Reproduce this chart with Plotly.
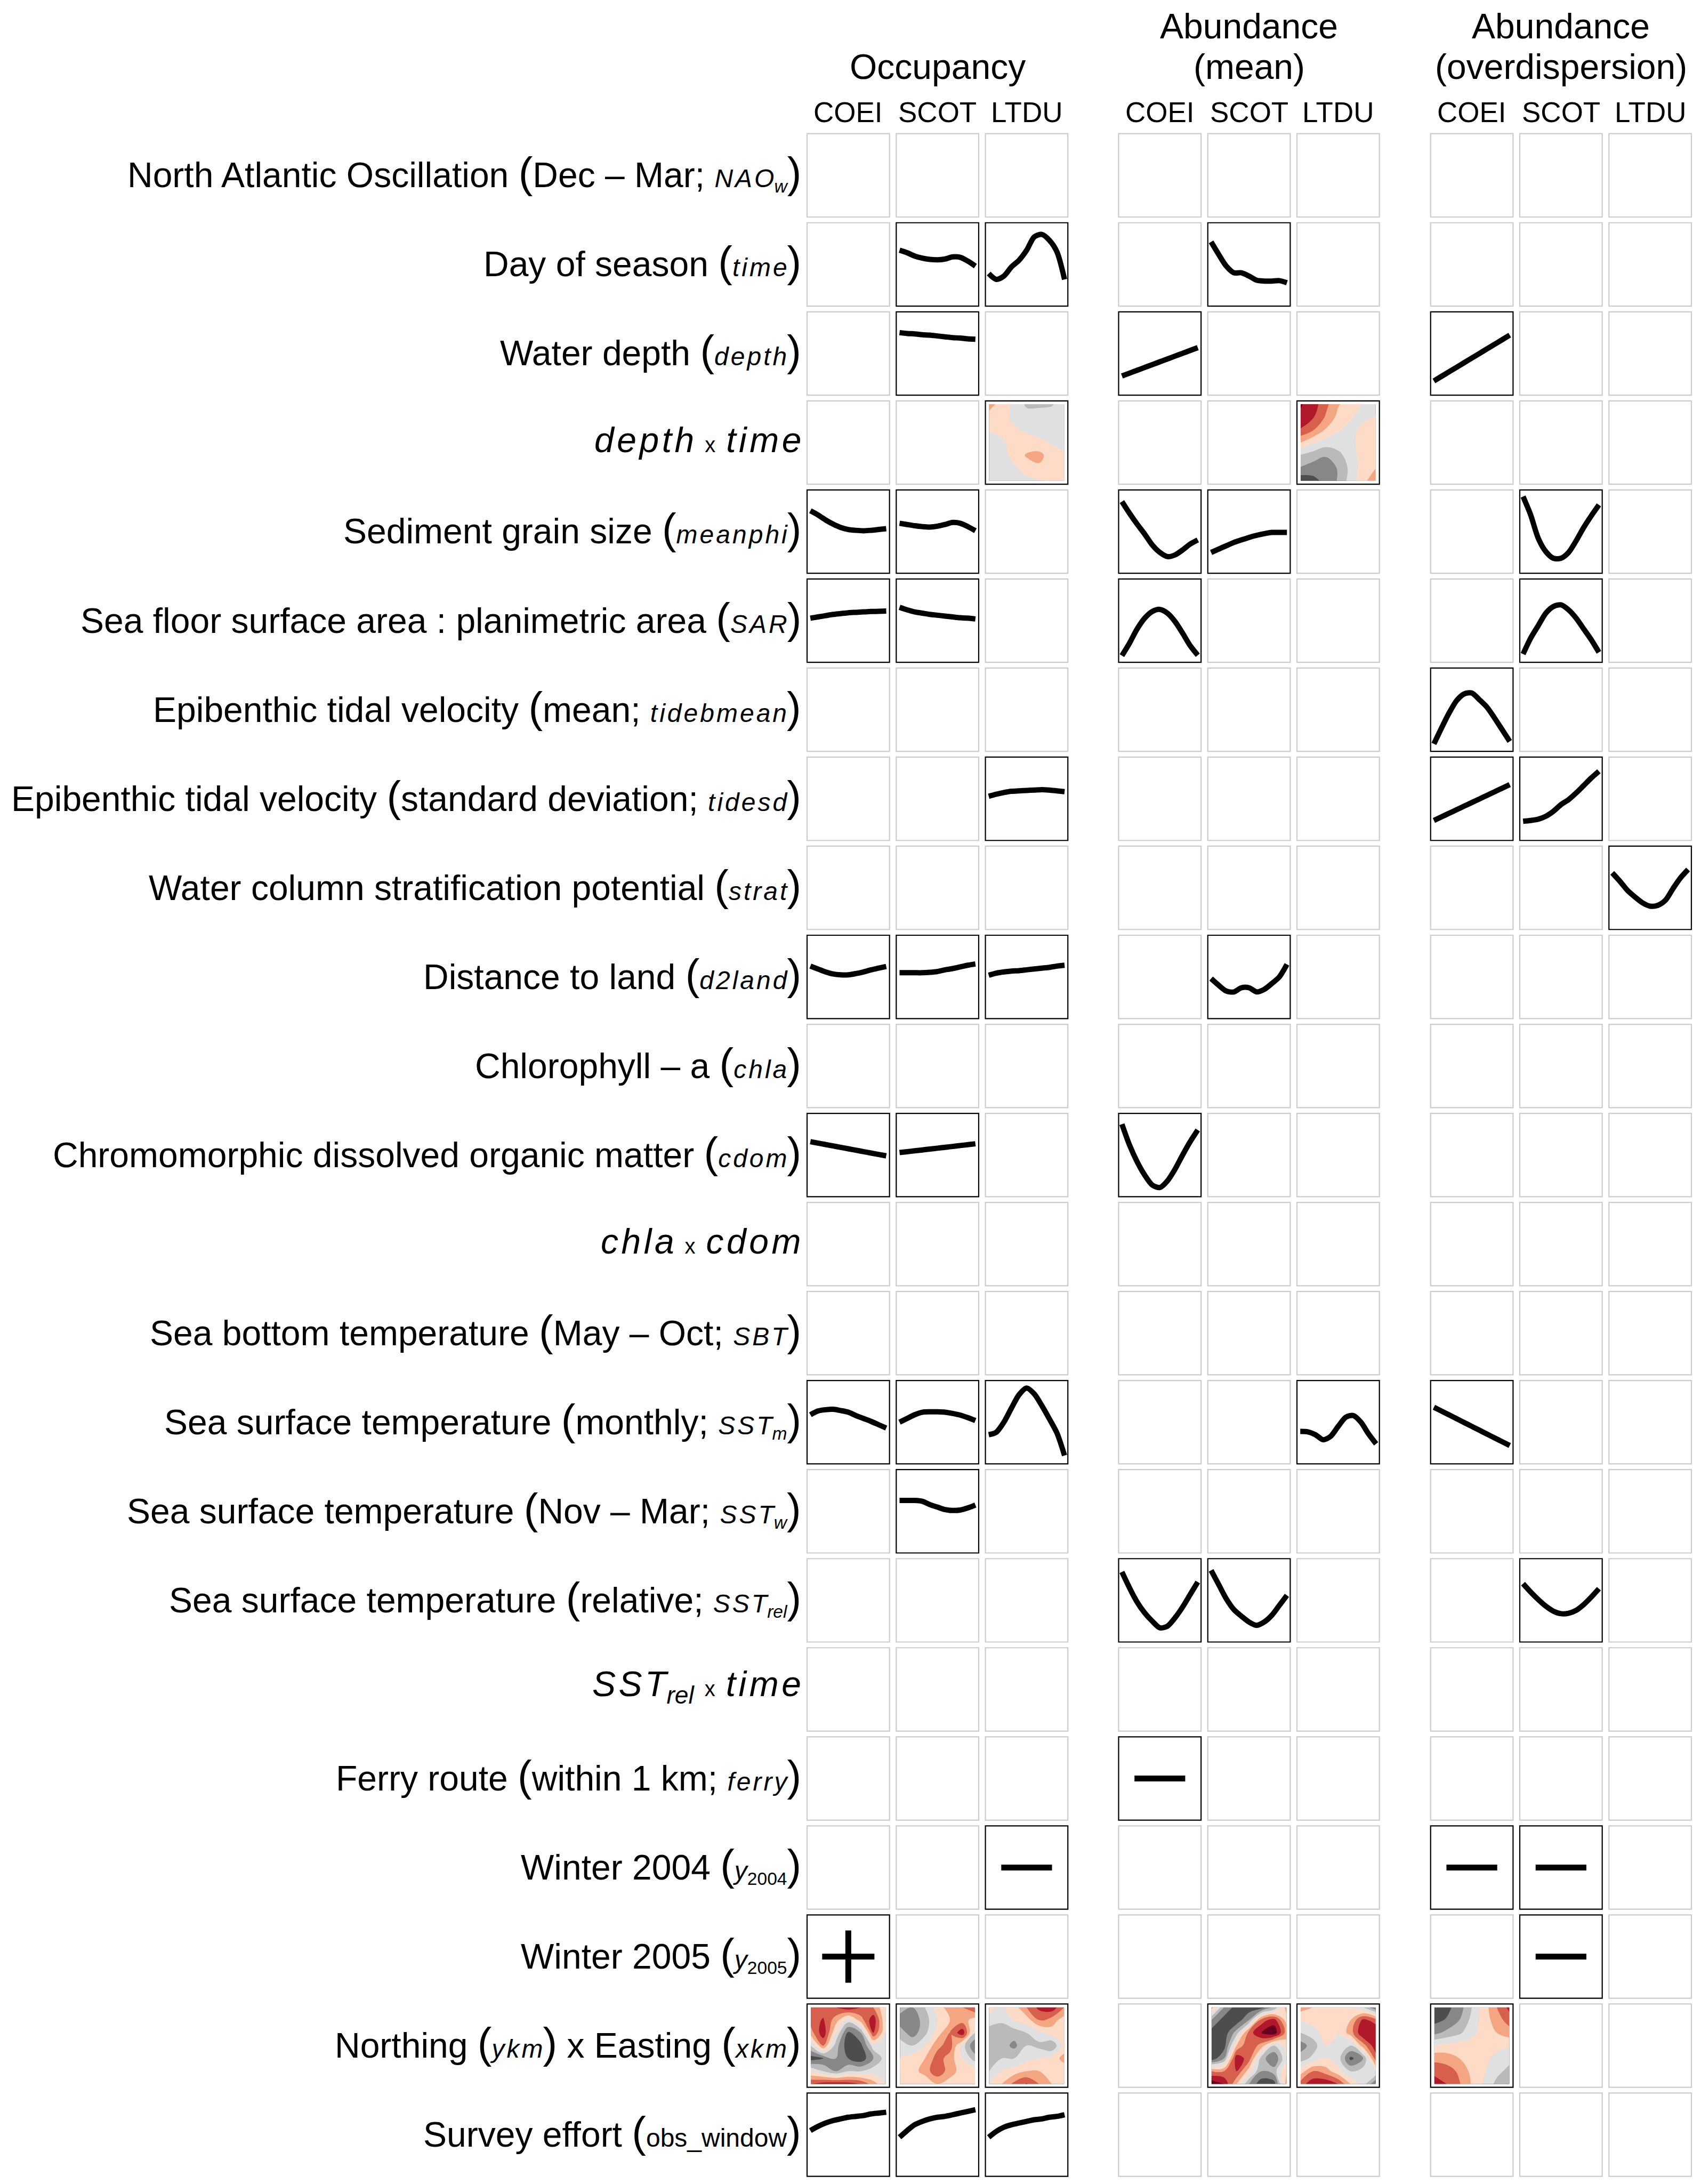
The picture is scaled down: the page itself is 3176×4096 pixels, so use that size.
import plotly.graph_objects as go

# ---------------- text ----------------
GROUPS_TOP = ["", "Abundance", "Abundance"]
GROUPS_BOTTOM = ["Occupancy", "(mean)", "(overdispersion)"]
SPECIES = ["COEI", "SCOT", "LTDU"]

MAIN = 66
HAIR = "\u200a"


def P(s):
    return '<span style="font-size:80px">' + s + '</span>'


def V(s, sub="", sub_italic=True):
    t = '<span style="font-size:48px"><i>' + HAIR.join(s) + '</i>'
    if sub:
        t += '<sub>' + ('<i>' + sub + '</i>' if sub_italic else sub) + '</sub>'
    return t + '</span>'


def I(s, sub=""):
    t = '<i>' + HAIR.join(s) + '</i>'
    if sub:
        t += '<sub><i>' + sub + '</i></sub>'
    return t


X = '<span style="font-size:40px">\u2002x\u2002</span>'

ROW_LABELS = [
    "North Atlantic Oscillation " + P("(") + "Dec \u2013 Mar; " + V("NAO", "w") + P(")"),
    "Day of season " + P("(") + V("time") + P(")"),
    "Water depth " + P("(") + V("depth") + P(")"),
    I("depth") + X + I("time"),
    "Sediment grain size " + P("(") + V("meanphi") + P(")"),
    "Sea floor surface area : planimetric area " + P("(") + V("SAR") + P(")"),
    "Epibenthic tidal velocity " + P("(") + "mean; " + V("tidebmean") + P(")"),
    "Epibenthic tidal velocity " + P("(") + "standard deviation; " + V("tidesd") + P(")"),
    "Water column stratification potential " + P("(") + V("strat") + P(")"),
    "Distance to land " + P("(") + V("d2land") + P(")"),
    "Chlorophyll \u2013 a " + P("(") + V("chla") + P(")"),
    "Chromomorphic dissolved organic matter " + P("(") + V("cdom") + P(")"),
    I("chla") + X + I("cdom"),
    "Sea bottom temperature " + P("(") + "May \u2013 Oct; " + V("SBT") + P(")"),
    "Sea surface temperature " + P("(") + "monthly; " + V("SST", "m") + P(")"),
    "Sea surface temperature " + P("(") + "Nov \u2013 Mar; " + V("SST", "w") + P(")"),
    "Sea surface temperature " + P("(") + "relative; " + V("SST", "rel") + P(")"),
    I("SST", "rel") + X + I("time"),
    "Ferry route " + P("(") + "within 1 km; " + V("ferry") + P(")"),
    "Winter 2004 " + P("(") + V("y", "2004", False) + P(")"),
    "Winter 2005 " + P("(") + V("y", "2005", False) + P(")"),
    "Northing " + P("(") + V("ykm") + P(")") + " x Easting " + P("(") + V("xkm") + P(")"),
    "Survey effort " + P("(") + '<span style="font-size:48px">obs_window</span>' + P(")"),
]

# ---------------- partial-effect curves (11 pts, 0=bottom, 1=top) ----------------
occ_scot_time = [0.67, 0.64, 0.60, 0.575, 0.56, 0.555, 0.565, 0.59, 0.585, 0.54, 0.48]
occ_ltdu_time = [0.39, 0.32, 0.36, 0.47, 0.55, 0.67, 0.83, 0.86, 0.79, 0.65, 0.32]
mean_scot_time = [0.77, 0.62, 0.48, 0.40, 0.40, 0.36, 0.31, 0.30, 0.30, 0.305, 0.28]
occ_scot_depth = [0.75, 0.74, 0.735, 0.725, 0.72, 0.71, 0.70, 0.69, 0.685, 0.675, 0.67]
mean_coei_depth = [0.23, 0.264, 0.298, 0.332, 0.366, 0.40, 0.434, 0.468, 0.502, 0.536, 0.57]
ovd_coei_depth = [0.17, 0.225, 0.28, 0.335, 0.39, 0.445, 0.50, 0.555, 0.61, 0.665, 0.72]
occ_coei_meanphi = [0.75, 0.70, 0.64, 0.59, 0.55, 0.525, 0.515, 0.51, 0.515, 0.525, 0.535]
occ_scot_meanphi = [0.60, 0.585, 0.57, 0.56, 0.555, 0.565, 0.585, 0.61, 0.60, 0.56, 0.51]
mean_coei_meanphi = [0.86, 0.72, 0.59, 0.47, 0.34, 0.25, 0.20, 0.22, 0.28, 0.35, 0.40]
mean_scot_meanphi = [0.25, 0.29, 0.33, 0.37, 0.40, 0.43, 0.455, 0.475, 0.49, 0.49, 0.49]
ovd_scot_meanphi = [0.92, 0.70, 0.42, 0.26, 0.18, 0.18, 0.25, 0.39, 0.55, 0.69, 0.82]
occ_coei_sar = [0.53, 0.545, 0.56, 0.575, 0.585, 0.595, 0.60, 0.605, 0.61, 0.612, 0.615]
occ_scot_sar = [0.66, 0.63, 0.605, 0.59, 0.575, 0.565, 0.555, 0.545, 0.535, 0.53, 0.52]
mean_coei_sar = [0.08, 0.23, 0.40, 0.53, 0.61, 0.635, 0.59, 0.49, 0.35, 0.20, 0.085]
ovd_scot_sar = [0.10, 0.29, 0.44, 0.59, 0.67, 0.69, 0.63, 0.53, 0.40, 0.27, 0.12]
ovd_coei_tidebmean = [0.09, 0.28, 0.46, 0.61, 0.69, 0.70, 0.62, 0.53, 0.40, 0.26, 0.12]
occ_ltdu_tidesd = [0.53, 0.555, 0.575, 0.59, 0.595, 0.60, 0.605, 0.61, 0.605, 0.595, 0.585]
ovd_coei_tidesd = [0.24, 0.283, 0.326, 0.369, 0.412, 0.455, 0.498, 0.541, 0.584, 0.627, 0.67]
ovd_scot_tidesd = [0.23, 0.24, 0.255, 0.29, 0.35, 0.43, 0.49, 0.57, 0.66, 0.75, 0.83]
ovd_ltdu_strat = [0.68, 0.58, 0.47, 0.39, 0.32, 0.28, 0.29, 0.35, 0.49, 0.62, 0.72]
occ_coei_d2land = [0.63, 0.595, 0.56, 0.535, 0.525, 0.525, 0.54, 0.56, 0.585, 0.605, 0.625]
occ_scot_d2land = [0.55, 0.55, 0.55, 0.55, 0.555, 0.565, 0.585, 0.60, 0.62, 0.64, 0.655]
occ_ltdu_d2land = [0.52, 0.545, 0.56, 0.57, 0.575, 0.585, 0.595, 0.605, 0.615, 0.63, 0.64]
mean_scot_d2land = [0.48, 0.40, 0.33, 0.32, 0.37, 0.37, 0.32, 0.35, 0.42, 0.50, 0.65]
occ_coei_cdom = [0.66, 0.643, 0.626, 0.609, 0.592, 0.575, 0.558, 0.541, 0.524, 0.507, 0.49]
occ_scot_cdom = [0.53, 0.54, 0.551, 0.561, 0.572, 0.582, 0.593, 0.603, 0.614, 0.624, 0.635]
mean_coei_cdom = [0.87, 0.62, 0.42, 0.26, 0.14, 0.11, 0.19, 0.33, 0.50, 0.66, 0.80]
occ_coei_sstm = [0.59, 0.635, 0.65, 0.655, 0.64, 0.62, 0.58, 0.545, 0.51, 0.47, 0.43]
occ_scot_sstm = [0.50, 0.545, 0.59, 0.62, 0.625, 0.625, 0.62, 0.605, 0.585, 0.555, 0.52]
occ_ltdu_sstm = [0.35, 0.38, 0.50, 0.67, 0.83, 0.91, 0.84, 0.70, 0.54, 0.37, 0.10]
mean_ltdu_sstm = [0.39, 0.385, 0.35, 0.29, 0.33, 0.45, 0.56, 0.58, 0.50, 0.36, 0.24]
ovd_coei_sstm = [0.68, 0.634, 0.588, 0.542, 0.496, 0.45, 0.404, 0.358, 0.312, 0.266, 0.22]
occ_scot_sstw = [0.63, 0.63, 0.63, 0.62, 0.58, 0.55, 0.52, 0.51, 0.515, 0.54, 0.575]
mean_coei_sstrel = [0.84, 0.65, 0.48, 0.35, 0.25, 0.17, 0.19, 0.29, 0.42, 0.57, 0.72]
mean_scot_sstrel = [0.86, 0.69, 0.52, 0.39, 0.31, 0.24, 0.20, 0.24, 0.32, 0.44, 0.56]
ovd_scot_sstrel = [0.70, 0.60, 0.51, 0.43, 0.37, 0.34, 0.345, 0.38, 0.45, 0.54, 0.64]
occ_coei_obs = [0.55, 0.60, 0.64, 0.67, 0.69, 0.71, 0.72, 0.73, 0.75, 0.76, 0.77]
occ_scot_obs = [0.47, 0.55, 0.62, 0.66, 0.69, 0.71, 0.72, 0.74, 0.76, 0.78, 0.80]
occ_ltdu_obs = [0.47, 0.54, 0.59, 0.62, 0.64, 0.66, 0.68, 0.69, 0.71, 0.72, 0.74]

CURVE_CELLS = [
    (1, 1, occ_scot_time), (1, 2, occ_ltdu_time), (1, 4, mean_scot_time),
    (2, 1, occ_scot_depth), (2, 3, mean_coei_depth), (2, 6, ovd_coei_depth),
    (4, 0, occ_coei_meanphi), (4, 1, occ_scot_meanphi), (4, 3, mean_coei_meanphi),
    (4, 4, mean_scot_meanphi), (4, 7, ovd_scot_meanphi),
    (5, 0, occ_coei_sar), (5, 1, occ_scot_sar), (5, 3, mean_coei_sar), (5, 7, ovd_scot_sar),
    (6, 6, ovd_coei_tidebmean),
    (7, 2, occ_ltdu_tidesd), (7, 6, ovd_coei_tidesd), (7, 7, ovd_scot_tidesd),
    (8, 8, ovd_ltdu_strat),
    (9, 0, occ_coei_d2land), (9, 1, occ_scot_d2land), (9, 2, occ_ltdu_d2land), (9, 4, mean_scot_d2land),
    (11, 0, occ_coei_cdom), (11, 1, occ_scot_cdom), (11, 3, mean_coei_cdom),
    (14, 0, occ_coei_sstm), (14, 1, occ_scot_sstm), (14, 2, occ_ltdu_sstm),
    (14, 5, mean_ltdu_sstm), (14, 6, ovd_coei_sstm),
    (15, 1, occ_scot_sstw),
    (16, 3, mean_coei_sstrel), (16, 4, mean_scot_sstrel), (16, 7, ovd_scot_sstrel),
    (22, 0, occ_coei_obs), (22, 1, occ_scot_obs), (22, 2, occ_ltdu_obs),
]

# factor effects
MINUS_CELLS = [(18, 3), (19, 2), (19, 6), (19, 7), (20, 7)]
PLUS_CELLS = [(20, 0)]

# ---------------- 2-D smooth surfaces (rows top -> bottom, 0 = dark grey ... 9 = dark red) ----------------
occ_ltdu_depth_time = [
    [6.0, 5.0, 4.3, 3.3, 3.3, 3.4, 4.0],
    [5.0, 5.0, 4.2, 4.0, 4.0, 4.0, 4.0],
    [4.6, 4.8, 4.7, 4.3, 4.0, 4.0, 4.0],
    [4.0, 4.3, 5.0, 5.0, 4.8, 4.4, 4.1],
    [4.0, 4.0, 4.9, 5.6, 5.8, 5.0, 4.7],
    [4.0, 4.0, 4.3, 5.0, 5.3, 5.0, 5.0],
    [4.0, 4.0, 4.0, 4.2, 4.4, 4.8, 5.0],
]
mean_ltdu_depth_time = [
    [8.6, 8.0, 6.8, 5.6, 5.0, 4.4, 4.0],
    [8.3, 7.6, 6.4, 5.2, 4.6, 4.2, 4.6],
    [7.4, 6.6, 5.4, 4.6, 4.2, 4.8, 5.0],
    [5.5, 4.6, 4.0, 4.0, 4.2, 5.0, 5.0],
    [3.4, 3.0, 2.6, 3.2, 4.0, 5.0, 5.2],
    [2.4, 2.0, 1.8, 2.6, 3.8, 5.0, 5.5],
    [0.8, 1.2, 1.8, 2.6, 4.0, 5.2, 6.2],
]
occ_coei_xy = [
    [7.0, 7.0, 7.5, 8.2, 7.5, 6.5, 4.5],
    [7.0, 7.6, 6.0, 4.0, 6.0, 8.2, 4.5],
    [6.0, 8.2, 4.5, 1.2, 2.5, 7.5, 4.5],
    [3.5, 6.5, 3.0, 0.8, 1.2, 4.0, 4.0],
    [1.0, 1.5, 2.5, 1.5, 0.8, 2.5, 4.0],
    [4.5, 3.5, 2.5, 3.5, 3.5, 4.0, 4.5],
    [7.5, 8.0, 8.2, 8.0, 7.5, 6.0, 4.5],
]
occ_scot_xy = [
    [3.0, 2.5, 3.5, 5.0, 6.0, 6.5, 7.5],
    [2.0, 1.8, 3.0, 4.5, 5.5, 6.0, 5.0],
    [3.0, 2.0, 3.2, 5.0, 6.5, 8.2, 3.5],
    [4.0, 3.5, 4.5, 6.2, 7.0, 4.0, 1.5],
    [4.5, 5.0, 5.5, 7.0, 6.0, 4.5, 3.0],
    [4.5, 5.0, 6.0, 7.2, 6.0, 5.0, 5.0],
    [5.5, 5.0, 4.5, 5.5, 5.0, 5.0, 5.5],
]
occ_ltdu_xy = [
    [5.0, 4.5, 5.0, 6.5, 7.8, 8.2, 6.5],
    [4.0, 3.8, 4.5, 5.0, 6.5, 6.0, 5.0],
    [3.0, 2.5, 3.0, 3.5, 4.2, 5.0, 5.0],
    [2.8, 3.0, 2.2, 3.5, 3.2, 2.5, 5.0],
    [2.5, 3.5, 3.5, 4.2, 4.5, 5.0, 5.8],
    [3.5, 4.5, 5.0, 5.5, 5.5, 5.0, 5.0],
    [4.5, 5.5, 6.8, 7.6, 6.5, 5.5, 5.0],
]
mean_scot_xy = [
    [6.0, 2.5, 1.0, 0.8, 1.0, 2.5, 6.0],
    [2.5, 1.0, 0.8, 2.5, 7.0, 8.0, 5.0],
    [1.0, 0.8, 3.0, 7.0, 8.5, 9.2, 6.0],
    [0.5, 1.0, 5.5, 7.5, 6.0, 3.5, 5.0],
    [0.8, 2.5, 8.2, 7.0, 3.0, 1.5, 4.5],
    [6.5, 6.5, 7.5, 5.0, 2.5, 3.0, 5.5],
    [9.3, 8.5, 5.5, 2.5, 0.8, 1.0, 6.0],
]
mean_ltdu_xy = [
    [6.0, 5.5, 5.0, 5.0, 4.5, 3.5, 1.5],
    [4.5, 5.0, 5.0, 4.5, 5.5, 7.8, 7.0],
    [3.5, 4.0, 5.0, 4.5, 6.0, 8.5, 8.5],
    [2.0, 3.0, 4.5, 4.5, 3.5, 6.0, 8.2],
    [3.0, 3.8, 4.5, 4.0, 1.2, 2.5, 7.0],
    [5.0, 6.5, 6.0, 4.8, 3.5, 4.0, 4.5],
    [7.0, 8.2, 8.3, 7.5, 5.5, 4.0, 1.5],
]
ovd_coei_xy = [
    [0.8, 1.2, 2.0, 3.5, 5.0, 6.5, 7.8],
    [1.2, 1.6, 2.5, 3.8, 5.0, 6.0, 7.0],
    [2.2, 2.8, 3.3, 4.2, 5.0, 5.5, 6.0],
    [4.6, 4.8, 5.0, 5.0, 5.0, 4.8, 4.6],
    [6.2, 6.0, 5.5, 5.0, 4.8, 4.2, 3.8],
    [7.2, 7.0, 6.3, 5.2, 4.6, 3.8, 3.2],
    [8.0, 7.5, 6.6, 5.4, 4.3, 3.2, 2.5],
]

SURFACE_CELLS = [
    (3, 2, occ_ltdu_depth_time), (3, 5, mean_ltdu_depth_time),
    (21, 0, occ_coei_xy), (21, 1, occ_scot_xy), (21, 2, occ_ltdu_xy),
    (21, 4, mean_scot_xy), (21, 5, mean_ltdu_xy), (21, 6, ovd_coei_xy),
]

BAND_COLORS = ["#1a1a1a", "#4d4d4d", "#878787", "#bababa", "#e0e0e0",
               "#fddbc7", "#f4a582", "#d6604d", "#b2182b", "#67001f"]

# ---------------- layout geometry ----------------
W, H = 3176, 4096
S = 0.814
GROUP_X = [1860 * S, 2578 * S, 3297 * S]
COL_PITCH = 205.5 * S
ROW_TOP0 = 308 * S
ROW_PITCH = 205.2 * S
PW = 190 * S
PH = 192 * S
NROWS = len(ROW_LABELS)


def cell_left(c):
    return GROUP_X[c // 3] + (c % 3) * COL_PITCH


def cell_top(r):
    return ROW_TOP0 + r * ROW_PITCH


fig = go.Figure()
active = set()

# surfaces
cs = [[k / 9, col] for k, col in enumerate(BAND_COLORS)]
for r, c, grid in SURFACE_CELLS:
    active.add((r, c))
    x0, y0 = cell_left(c), cell_top(r)
    nr, nc = len(grid), len(grid[0])
    xs = [x0 + PW * (0.045 + 0.91 * j / (nc - 1)) for j in range(nc)]
    ys = [y0 + PH * (0.04 + 0.92 * i / (nr - 1)) for i in range(nr)]
    fig.add_trace(go.Contour(
        z=grid, x=xs, y=ys, zmin=0, zmax=9, colorscale=cs, showscale=False,
        autocontour=False, contours=dict(start=0.5, end=8.5, size=1, coloring="fill", showlines=False),
        line=dict(width=0, smoothing=1.1), hoverinfo="skip"))

# curves
for r, c, vals in CURVE_CELLS:
    active.add((r, c))
    x0, y0 = cell_left(c), cell_top(r)
    n = len(vals)
    xs = [x0 + PW * (0.04 + 0.92 * k / (n - 1)) for k in range(n)]
    ys = [y0 + PH * (1 - v) for v in vals]
    fig.add_trace(go.Scatter(x=xs, y=ys, mode="lines",
                             line=dict(color="black", width=10, shape="spline", smoothing=0.8),
                             hoverinfo="skip", showlegend=False))

# factor symbols
for cells, sym, size in [(MINUS_CELLS, "line-ew", 68), (PLUS_CELLS, "cross-thin", 70)]:
    xs, ys = [], []
    for r, c in cells:
        active.add((r, c))
        xs.append(cell_left(c) + PW / 2)
        ys.append(cell_top(r) + PH / 2)
    fig.add_trace(go.Scatter(x=xs, y=ys, mode="markers",
                             marker=dict(symbol=sym, size=size, color="black",
                                         line=dict(color="black", width=11)),
                             hoverinfo="skip", showlegend=False))

# panel frames
shapes = []
for r in range(NROWS):
    for c in range(9):
        on = (r, c) in active
        shapes.append(dict(type="rect", xref="x", yref="y",
                           x0=cell_left(c), x1=cell_left(c) + PW,
                           y0=cell_top(r), y1=cell_top(r) + PH,
                           line=dict(color="black" if on else "#cccccc", width=2.2),
                           fillcolor="rgba(0,0,0,0)", layer="above"))

annotations = []
FONT = "Liberation Sans, Arial, Helvetica, sans-serif"
for r, lab in enumerate(ROW_LABELS):
    annotations.append(dict(x=1844 * S + 4, y=cell_top(r) + PH / 2 - 5, xref="x", yref="y",
                            text=lab, showarrow=False, xanchor="right", yanchor="middle",
                            font=dict(family=FONT, size=MAIN, color="black")))
for g in range(3):
    cx = GROUP_X[g] + COL_PITCH + PW / 2
    if GROUPS_TOP[g]:
        annotations.append(dict(x=cx, y=60 * S, xref="x", yref="y", text=GROUPS_TOP[g],
                                showarrow=False, xanchor="center", yanchor="middle",
                                font=dict(family=FONT, size=MAIN, color="black")))
    annotations.append(dict(x=cx, y=153 * S, xref="x", yref="y", text=GROUPS_BOTTOM[g],
                            showarrow=False, xanchor="center", yanchor="middle",
                            font=dict(family=FONT, size=MAIN, color="black")))
    for k, sp in enumerate(SPECIES):
        annotations.append(dict(x=cell_left(3 * g + k) + PW / 2, y=258 * S, xref="x", yref="y",
                                text=sp, showarrow=False, xanchor="center", yanchor="middle",
                                font=dict(family=FONT, size=53, color="black")))

fig.update_layout(
    width=W, height=H, margin=dict(l=0, r=0, t=0, b=0),
    paper_bgcolor="white", plot_bgcolor="white", showlegend=False,
    xaxis=dict(range=[0, W], visible=False, fixedrange=True),
    yaxis=dict(range=[H, 0], visible=False, fixedrange=True),
    shapes=shapes, annotations=annotations,
)

fig.write_html("out.html")
